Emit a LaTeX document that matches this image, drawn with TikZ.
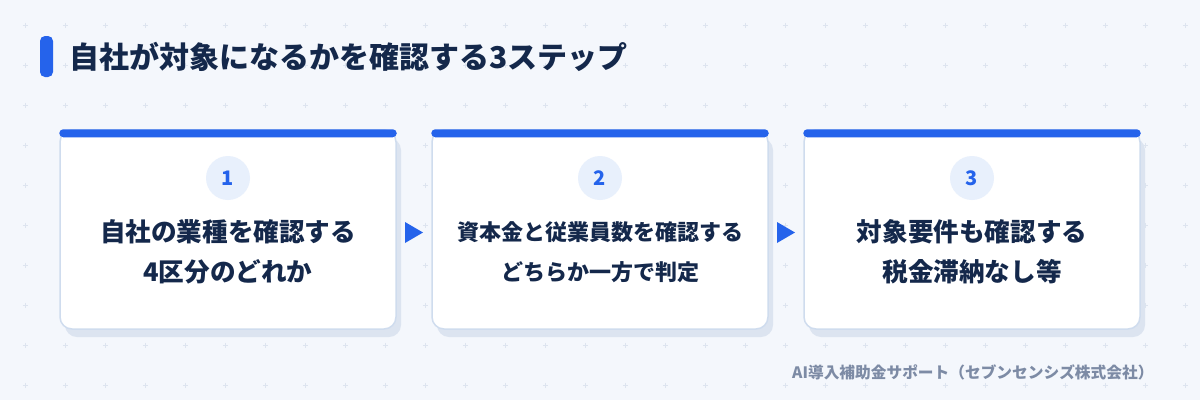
\documentclass[tikz,border=0pt]{standalone}
\usepackage{fontspec}
\setmainfont{Noto Sans CJK JP}
\usepackage {tikz}
\usetikzlibrary {positioning}
\definecolor {stepblue}{HTML}{2563EB}
\definecolor {navy}{HTML}{14284B}
\definecolor {pagebg}{HTML}{F4F7FC}
\definecolor {gridgray}{HTML}{DDE4EF}
\definecolor {cardline}{HTML}{CFDCEE}
\definecolor {cardshadow}{HTML}{DCE4F0}
\definecolor {numbg}{HTML}{E8F0FC}
\definecolor {footgray}{HTML}{7D8BA5}

\begin{document}
\begin{tikzpicture}[x=1pt,y=-1pt]
  \tikzstyle{card}=[rectangle, rounded corners=12pt, fill=white, draw=cardline,
line width=1.5pt, minimum width=336pt, minimum height=199pt, inner sep=0pt]
  \tikzstyle{cardback}=[card, fill=cardshadow, draw=none]
  \tikzstyle{numcircle}=[circle, fill=numbg, text=stepblue, minimum size=44pt,
inner sep=0pt, font=\bfseries\fontsize{20pt}{20pt}\selectfont]
  \tikzstyle{steptext}=[align=center, text=navy, font=\bfseries\fontsize{25.6pt}{40pt}\selectfont]
  \tikzstyle{gridplus}=[gridgray, line width=0.8pt]

  \useasboundingbox (0,0) rectangle (1200,400);
  \fill[pagebg] (0,0) rectangle (1200,400);
  \foreach \gx in {25,65,...,1185}
    \foreach \gy in {25,65,...,385}
      \draw[gridplus] (\gx-2.5,\gy) -- (\gx+2.5,\gy) (\gx,\gy-2.5) -- (\gx,\gy+2.5);

  % title
  \fill[stepblue, rounded corners=5pt] (40,36) rectangle (53,77);
  \node[anchor=west, text=navy, font=\bfseries\fontsize{30pt}{30pt}\selectfont] (title) at (66,57)
    {自社が対象になるかを確認する3ステップ};

  % cards
  \node[cardback] (S_1) at (233,237.5) {};
  \node[cardback] (S_2) at (605,237.5) {};
  \node[cardback] (S_3) at (977,237.5) {};
  \node[card] (C_1) at (228,229.5) {};
  \node[card] (C_2) at (600,229.5) {};
  \node[card] (C_3) at (972,229.5) {};
  \fill[stepblue, rounded corners=4pt] (C_1.north west) rectangle ([yshift=-8pt]C_1.north east);
  \fill[stepblue, rounded corners=4pt] (C_2.north west) rectangle ([yshift=-8pt]C_2.north east);
  \fill[stepblue, rounded corners=4pt] (C_3.north west) rectangle ([yshift=-8pt]C_3.north east);

  \node[numcircle] (N_1) at (228,178) {1};
  \node[numcircle] (N_2) at (600,178) {2};
  \node[numcircle] (N_3) at (972,178) {3};

  \node[steptext] (T_1) at (228,252) {自社の業種を確認する\\4区分のどれか};
  \node[steptext, font=\bfseries\fontsize{22pt}{40pt}\selectfont] (T_2) at (600,252)
    {資本金と従業員数を確認する\\どちらか一方で判定};
  \node[steptext] (T_3) at (972,252) {対象要件も確認する\\税金滞納なし等};

  % arrows
  \fill[stepblue] (405,222) -- (423,232.5) -- (405,243) -- cycle;
  \fill[stepblue] (777,222) -- (795,232.5) -- (777,243) -- cycle;

  \node[anchor=east, text=footgray, font=\bfseries\fontsize{15.7pt}{15.7pt}\selectfont] (foot) at (1157,372)
    {AI導入補助金サポート（セブンセンシズ株式会社）};
\end{tikzpicture}
\end{document}
